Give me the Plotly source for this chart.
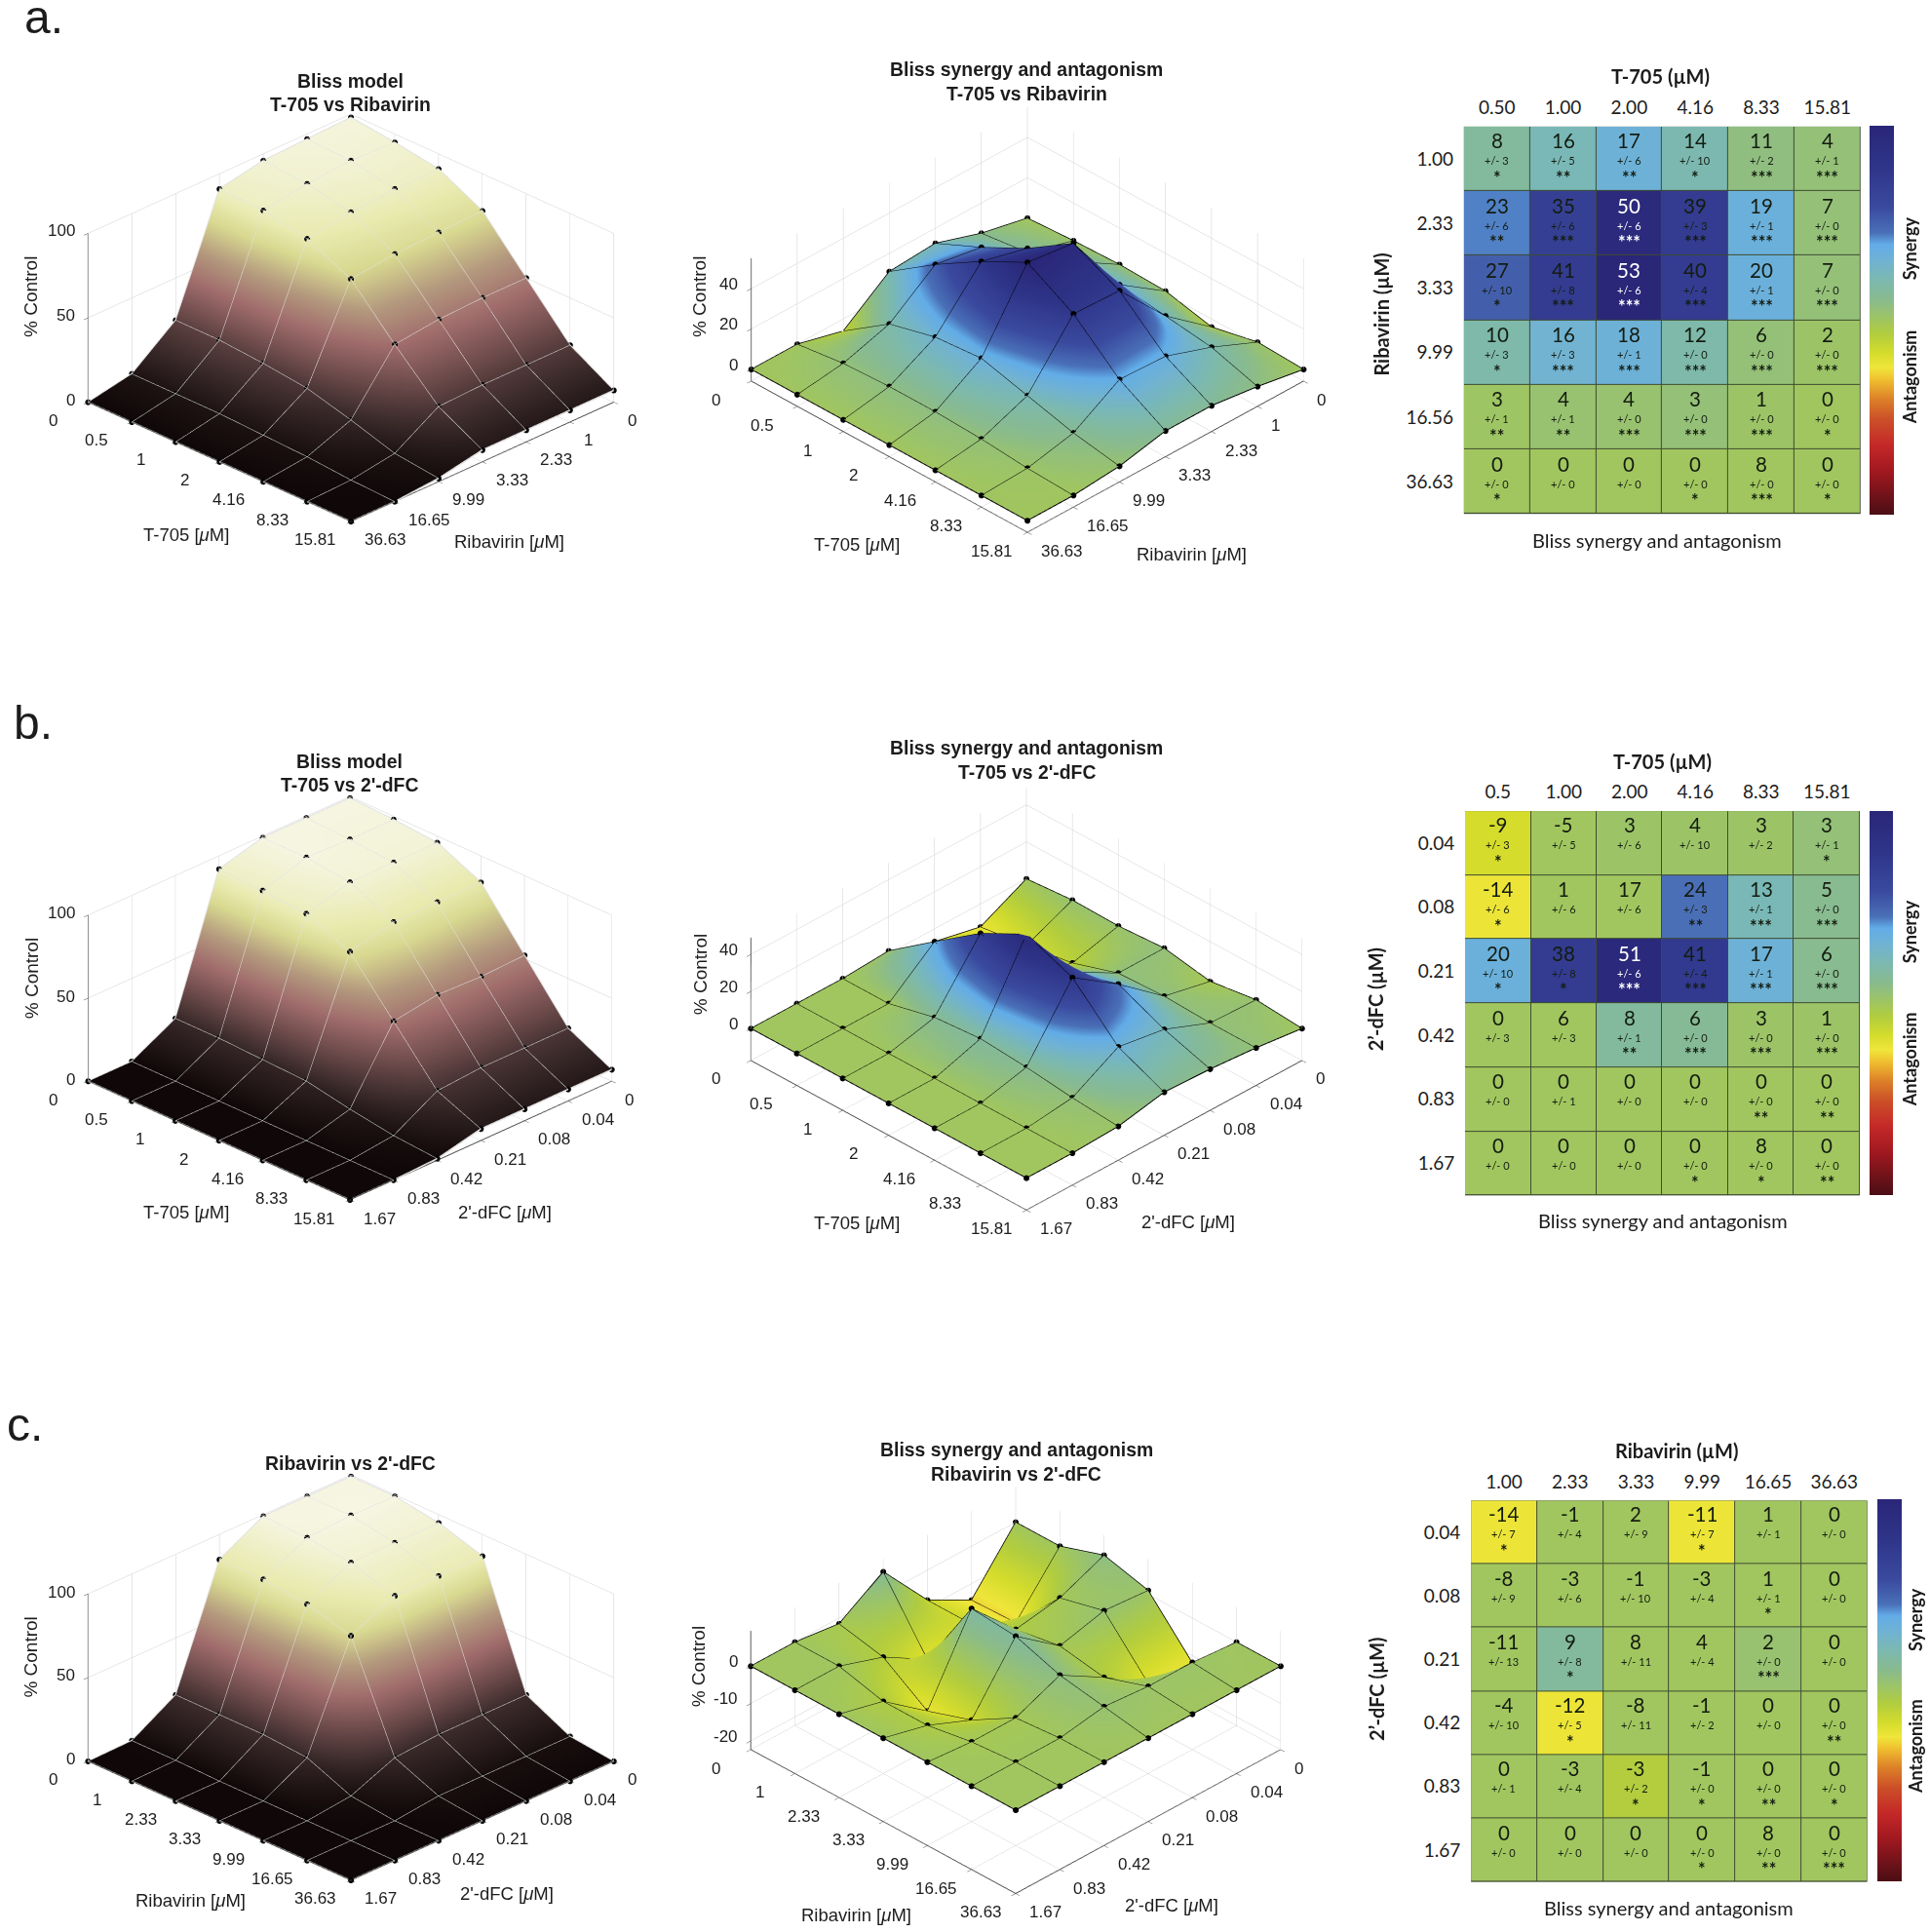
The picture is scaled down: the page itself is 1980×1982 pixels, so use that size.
import math
import plotly.graph_objects as go

W_PAGE, H_PAGE = 1980, 1982
SCENE_W, SCENE_H = 680, 480
EYE_R = 3.0

T705_TICKS = ["0", "0.5", "1", "2", "4.16", "8.33", "15.81"]
RIBA_TICKS = ["0", "1", "2.33", "3.33", "9.99", "16.65", "36.63"]
DFC_TICKS = ["0", "0.04", "0.08", "0.21", "0.42", "0.83", "1.67"]

# 3D surfaces: rows = first drug index, columns = second drug index
model_a = [[98, 97, 96, 91, 25, 5, 0], [95, 96, 94, 90, 25, 5, 0], [91, 91, 89, 85, 23, 5, 0],
           [78, 77, 76, 73, 20, 4, 0], [50, 50, 49, 46, 13, 3, 0], [22, 22, 22, 21, 5, 1, 0], [7, 7, 7, 7, 2, 0, 0]]
model_b = [[99, 99, 99, 92, 14, 0, 0], [98, 98, 99, 91, 14, 0, 0], [96, 96, 96, 89, 13, 0, 0],
           [84, 84, 84, 78, 12, 0, 0], [52, 51, 52, 48, 7, 0, 0], [20, 20, 20, 18, 3, 0, 0], [7, 7, 7, 7, 1, 0, 0]]
model_c = [[99, 99, 99, 85, 16, 0.5, 0], [99, 99.5, 98, 85, 16, 0.6, 0], [95, 95, 95, 82, 16, 0, 0],
           [87, 87, 87, 75, 14, 0, 0], [16, 16, 16, 14, 3, 0, 0], [3, 3, 3, 3, 0, 0, 0], [0, 0, 0, 0, 0, 0, 0]]
synergy_a = [[0, 5, 12.5, 11, -6, 0, 0], [1.3, 8, 23, 27, 10, 3, 0], [2, 16, 35, 41, 16, 4, 0],
             [1.3, 17, 50, 53, 18, 4, 0], [-4, 14, 39, 40, 12, 3, 0], [1, 11, 19, 20, 6, 1, 0], [0, 4, 7, 7, 2, 0, 0]]
synergy_b = [[0, -12.5, -7, 1.5, 0, 0, 0], [2, -9, -14, 20, 0, 0, 0], [1.5, -5, 1, 38, 6, 0, 0],
             [3, 3, 17, 51, 8, 0, 0], [-1.5, 4, 24, 41, 6, 0, 0], [2, 3, 13, 17, 3, 0, 0], [0, 3, 5, 6, 1, 0, 0]]
synergy_c = [[0, -14.4, -8, 6, -1.5, 0, 0], [0, -14, -8, -11, -4, 0, 0], [4, -1, -3, 9, -12, -3, 0],
             [1, 2, -1, 8, -8, -3, 0], [-12, -11, -3, 4, -1, -1, 0], [0, 1, 1, 2, 0, 0, 0], [0, 0, 0, 0, 0, 0, 0]]

# Tables
cols_a = ["0.50", "1.00", "2.00", "4.16", "8.33", "15.81"]
rows_a = ["1.00", "2.33", "3.33", "9.99", "16.56", "36.63"]
vals_a = [[8, 16, 17, 14, 11, 4], [23, 35, 50, 39, 19, 7], [27, 41, 53, 40, 20, 7],
          [10, 16, 18, 12, 6, 2], [3, 4, 4, 3, 1, 0], [0, 0, 0, 0, 8, 0]]
errs_a = [[3, 5, 6, 10, 2, 1], [6, 6, 6, 3, 1, 0], [10, 8, 6, 4, 1, 0],
          [3, 3, 1, 0, 0, 0], [1, 1, 0, 0, 0, 0], [0, 0, 0, 0, 0, 0]]
stars_a = [[1, 2, 2, 1, 3, 3], [2, 3, 3, 3, 3, 3], [1, 3, 3, 3, 3, 3],
           [1, 3, 3, 3, 3, 3], [2, 2, 3, 3, 3, 1], [1, 0, 0, 1, 3, 1]]
shade_a = [[8, 12, 17, 11, 4, 3], [23, 36, 50, 38, 18, 3], [27, 38, 53, 38, 18, 3],
           [10, 16, 17, 10, 3, 1], [0.5, 2, 2, 3, 1, 0], [0, 0, 0, 0, 0, 0]]

cols_b = ["0.5", "1.00", "2.00", "4.16", "8.33", "15.81"]
rows_b = ["0.04", "0.08", "0.21", "0.42", "0.83", "1.67"]
vals_b = [[-9, -5, 3, 4, 3, 3], [-14, 1, 17, 24, 13, 5], [20, 38, 51, 41, 17, 6],
          [0, 6, 8, 6, 3, 1], [0, 0, 0, 0, 0, 0], [0, 0, 0, 0, 8, 0]]
errs_b = [[3, 5, 6, 10, 2, 1], [6, 6, 6, 3, 1, 0], [10, 8, 6, 4, 1, 0],
          [3, 3, 1, 0, 0, 0], [0, 1, 0, 0, 0, 0], [0, 0, 0, 0, 0, 0]]
stars_b = [[1, 0, 0, 0, 0, 1], [1, 0, 0, 2, 3, 3], [1, 1, 3, 3, 3, 3],
           [0, 0, 2, 3, 3, 3], [0, 0, 0, 0, 2, 2], [0, 0, 0, 1, 1, 2]]
shade_b = [[-9, 0, 1, 1, 1, 3], [-12.5, 0, 0, 24, 12, 6], [18, 38, 51, 39, 17, 6],
           [0, 0, 8, 7, 1, 1], [0, 0, 0, 0, 0, 0], [0, 0, 0, 0, 0, 0]]

cols_c = ["1.00", "2.33", "3.33", "9.99", "16.65", "36.63"]
rows_c = ["0.04", "0.08", "0.21", "0.42", "0.83", "1.67"]
vals_c = [[-14, -1, 2, -11, 1, 0], [-8, -3, -1, -3, 1, 0], [-11, 9, 8, 4, 2, 0],
          [-4, -12, -8, -1, 0, 0], [0, -3, -3, -1, 0, 0], [0, 0, 0, 0, 8, 0]]
errs_c = [[7, 4, 9, 7, 1, 0], [9, 6, 10, 4, 1, 0], [13, 8, 11, 4, 0, 0],
          [10, 5, 11, 2, 0, 0], [1, 4, 2, 0, 0, 0], [0, 0, 0, 0, 0, 0]]
stars_c = [[1, 0, 0, 1, 0, 0], [0, 0, 0, 0, 1, 0], [0, 1, 0, 0, 3, 0],
           [0, 1, 0, 0, 0, 2], [0, 0, 1, 1, 2, 1], [0, 0, 0, 1, 2, 3]]
shade_c = [[-12.5, 0, 0, -12.5, 0, 0], [0, 0, 0, 0, 0, 0], [0, 8, 0, 0, 2, 0],
           [0, -12.5, 0, 0, 0, 0], [0, 0, -4, 0, 0, 0], [0, 0, 0, 0, 0, 0]]

MODEL_SCALE = [[0, "#100808"], [0.15, "#3a2a2a"], [0.30, "#6f4c4c"], [0.45, "#a06c6c"], [0.60, "#b49a7e"],
               [0.75, "#d8d890"], [0.85, "#e8eaae"], [1, "#f6f6e4"]]
SYN_SCALE = [[0, "#4a0e14"], [0.11, "#a01820"], [0.178, "#c42828"], [0.246, "#cc5028"], [0.297, "#dc8028"],
             [0.348, "#f0c030"], [0.378, "#efe63a"], [0.416, "#d4dc2c"], [0.467, "#b0cc40"], [0.51, "#9cc468"],
             [0.55, "#8abb8c"], [0.61, "#7ab8b4"], [0.655, "#70b2d4"], [0.695, "#62ace8"], [0.725, "#4a70b8"],
             [0.79, "#3a4a9e"], [0.90, "#2e3488"], [1, "#2a2678"]]

FONT3D = "Liberation Sans"
FONTH = "Lato"
TXT = "#1c1c1c"

FX3 = 1566 / 680
FY3 = 1566 / 540
FY3C = 1566 / 522
FXT = 1566 / 600
FYT = 1566 / 530
FYTC = 1566 / 522

panels3d = [
    dict(z=model_a, kind="model", ox=0, oy=50, fy=FY3, left=208, right=1450, floor=1050, top=548, front=1405, zr=[0, 100],
         zt=[0, 50, 100], first=T705_TICKS, second=RIBA_TICKS, t1="T-705", t2="Ribavirin", z_title=62, ztx=72,
         t1pos=(440, 1445), t2pos=(1203, 1465)),
    dict(z=synergy_a, kind="syn", ox=680, oy=50, fy=FY3, left=208, right=1513, floor=990, top=625, front=1440, zr=[-5.8, 55],
         zt=[0, 20, 40], first=T705_TICKS, second=RIBA_TICKS, t1="T-705", t2="Ribavirin", z_title=36, ztx=88,
         t1pos=(458, 1475), t2pos=(1250, 1505)),
    dict(z=model_b, kind="model", ox=0, oy=750, fy=FY3, left=208, right=1445, floor=1042, top=548, front=1395, zr=[0, 100],
         zt=[0, 50, 100], first=T705_TICKS, second=DFC_TICKS, t1="T-705", t2="2'-dFC", z_title=62, ztx=75,
         t1pos=(440, 1432), t2pos=(1192, 1430)),
    dict(z=synergy_b, kind="syn", ox=680, oy=750, fy=FY3, left=208, right=1510, floor=980, top=615, front=1425, zr=[-17.3, 49],
         zt=[0, 20, 40], first=T705_TICKS, second=DFC_TICKS, t1="T-705", t2="2'-dFC", z_title=29, ztx=88,
         t1pos=(458, 1462), t2pos=(1242, 1460)),
    dict(z=model_c, kind="model", ox=0, oy=1442, fy=FY3, left=208, right=1450, floor=1058, top=560, front=1412, zr=[0, 100],
         zt=[0, 50, 100], first=RIBA_TICKS, second=DFC_TICKS, t1="Ribavirin", t2="2'-dFC", z_title=62, ztx=72,
         t1pos=(450, 1472), t2pos=(1197, 1450)),
    dict(z=synergy_c, kind="syn", ox=680, oy=1460, fy=FY3C, left=208, right=1460, floor=1005, top=640, front=1448, zr=[-22.3, 9.4],
         zt=[-20, -10, 0], first=RIBA_TICKS, second=DFC_TICKS, t1="Ribavirin", t2="2'-dFC", z_title=0, ztx=85,
         t1pos=(457, 1512), t2pos=(1203, 1482)),
]

tables = [
    dict(oy=50, fy=FYT, box=(318, 1380, 236, 1410), cb=(1405, 1470, 232, 1410), cols=cols_a, rows=rows_a, vals=vals_a, errs=errs_a,
         stars=stars_a, shade=shade_a, top=("T-705 (µM)", 845, 82), left=("Ribavirin (µM)", 97, 805),
         bottom=("Bliss synergy and antagonism", 835, 1490), syn=(1510, 605), ant=(1510, 995)),
    dict(oy=760, fy=FYT, box=(321, 1378, 213, 1378), cb=(1405, 1468, 213, 1378), cols=cols_b, rows=rows_b, vals=vals_b, errs=errs_b,
         stars=stars_b, shade=shade_b, top=("T-705 (µM)", 850, 62), left=("2’-dFC (µM)", 80, 785),
         bottom=("Bliss synergy and antagonism", 850, 1455), syn=(1510, 578), ant=(1510, 965)),
    dict(oy=1460, fy=FYTC, box=(337, 1398, 238, 1412), cb=(1424, 1488, 235, 1412), cols=cols_c, rows=rows_c, vals=vals_c, errs=errs_c,
         stars=stars_c, shade=shade_c, top=("Ribavirin (µM)", 888, 85), left=("2’-dFC (µM)", 85, 820),
         bottom=("Bliss synergy and antagonism", 867, 1490), syn=(1525, 605), ant=(1525, 995)),
]

titles = [
    ("Bliss model", 359.5, 83.4), ("T-705 vs Ribavirin", 359.5, 107),
    ("Bliss synergy and antagonism", 1053, 70.7), ("T-705 vs Ribavirin", 1053, 96),
    ("Bliss model", 358.7, 781), ("T-705 vs 2'-dFC", 358.7, 804.5),
    ("Bliss synergy and antagonism", 1053, 767), ("T-705 vs 2'-dFC", 1053, 792),
    ("Ribavirin vs 2'-dFC", 359.5, 1500.6),
    ("Bliss synergy and antagonism", 1042.6, 1486.7), ("Ribavirin vs 2'-dFC", 1042.6, 1511.7),
]
letters = [("a.", 23, 18), ("b.", 12, 741), ("c.", 5, 1461)]


def px(x):
    return x / W_PAGE


def py(y):
    return 1 - y / H_PAGE


fig = go.Figure()
layout = dict(width=W_PAGE, height=H_PAGE, margin=dict(l=0, r=0, t=0, b=0), paper_bgcolor="white",
              plot_bgcolor="#3f4c30", showlegend=False, hovermode=False)
annos = []


def paper_text(text, x, y, size, family, bold=False, angle=0, color=TXT, anchor="center"):
    annos.append(dict(xref="paper", yref="paper", x=px(x), y=py(y), text=f"<b>{text}</b>" if bold else text,
                      showarrow=False, xanchor=anchor, yanchor="middle", textangle=angle,
                      font=dict(family=family, size=size, color=color)))


for n, p in enumerate(panels3d, start=1):
    sid = "scene" if n == 1 else f"scene{n}"
    z = p["z"]
    idx = list(range(7))
    is_model = p["kind"] == "model"
    wire = "#e2e2e2" if is_model else "#000000"
    wire_w = 3 if is_model else 2
    contour = dict(show=True, start=0, end=6, size=1, color=wire, width=wire_w, highlight=False)
    surf = dict(type="surface", x=idx, y=idx, z=z, scene=sid, showscale=False, hoverinfo="skip",
                lighting=dict(ambient=1, diffuse=0, specular=0, roughness=1, fresnel=0),
                contours=dict(x=contour, y=contour, z=dict(show=False, highlight=False)))
    if is_model:
        surf.update(colorscale=MODEL_SCALE, cmin=0, cmax=100)
    else:
        surf.update(colorscale=SYN_SCALE, cmin=-53, cmax=53)
    fig.add_trace(go.Surface(**surf))
    # outline of the mesh, taken from the same matrix
    lx, ly, lz = [], [], []
    for k in idx:
        lx.append(k); ly.append(0); lz.append(z[0][k])
    lx.append(None); ly.append(None); lz.append(None)
    for k in idx:
        lx.append(k); ly.append(6); lz.append(z[6][k])
    lx.append(None); ly.append(None); lz.append(None)
    for k in idx:
        lx.append(0); ly.append(k); lz.append(z[k][0])
    lx.append(None); ly.append(None); lz.append(None)
    for k in idx:
        lx.append(6); ly.append(k); lz.append(z[k][6])
    fig.add_trace(go.Scatter3d(x=lx, y=ly, z=lz, mode="lines", scene=sid, hoverinfo="skip",
                               line=dict(color=wire, width=wire_w), connectgaps=False))
    xs, ys, zs = [], [], []
    for i in idx:
        for j in idx:
            xs.append(j); ys.append(i); zs.append(z[i][j])
    fig.add_trace(go.Scatter3d(x=xs, y=ys, z=zs, mode="markers", scene=sid, hoverinfo="skip",
                               marker=dict(size=3.5, color="black")))
    fy = p["fy"]
    w = (p["right"] - p["left"]) / FX3
    depth = 2 * (p["front"] - p["floor"]) / fy
    h = (p["floor"] - p["top"]) / fy
    sin_el = depth / w
    ce = math.cos(math.asin(sin_el))
    cx = p["ox"] + (p["left"] + p["right"]) / 2 / FX3
    cy = p["oy"] + (p["floor"] + p["top"]) / 2 / fy
    side = (w / math.sqrt(2)) / (SCENE_H / 2)
    zasp = (h / ce) / (SCENE_H / 2)
    common = dict(range=[0, 6], tickvals=idx, ticktext=[""] * 7, showticklabels=False, showgrid=True, gridcolor="#cfcfcf",
                  gridwidth=1, zeroline=False, showbackground=False, showspikes=False, title=dict(text=""),
                  showline=True, linecolor="#444444", linewidth=2, ticks="outside", ticklen=6, tickcolor="#444444",
                  autorange=False)
    zax = dict(common)
    zax.update(range=p["zr"], tickvals=p["zt"], ticktext=[""] * 3)
    sa = []
    f3 = dict(family=FONT3D, size=17, color=TXT)
    zb = p["zr"][0]
    for i, t in enumerate(p["first"]):
        sa.append(dict(x=6, y=i, z=zb, text=t, showarrow=False, xanchor="center", yanchor="middle", xshift=-36, yshift=-19, font=f3))
    for j, t in enumerate(p["second"]):
        sa.append(dict(x=j, y=6, z=zb, text=t, showarrow=False, xanchor="left", yanchor="middle", xshift=12, yshift=-19, font=f3))
    for v in p["zt"]:
        sa.append(dict(x=6, y=0, z=v, text=str(v), showarrow=False, xanchor="right", yanchor="middle", xshift=-11,
                       yshift=2 if is_model else 5, font=f3))
    f4 = dict(family=FONT3D, size=18.5, color=TXT)
    for key, name in (("t1pos", p["t1"]), ("t2pos", p["t2"])):
        sa.append(dict(x=6, y=6, z=zb, text=f"{name} [<i>μ</i>M]", showarrow=False, xanchor="center", yanchor="middle",
                       xshift=(p[key][0] - (p["left"] + p["right"]) / 2) / FX3, yshift=-(p[key][1] - p["front"]) / fy, font=f4))
    sa.append(dict(x=6, y=0, z=p["z_title"], text="% Control", showarrow=False, xanchor="center", yanchor="middle",
                   xshift=(p["ztx"] - p["left"]) / FX3, yshift=0, textangle=-90, font=dict(family=FONT3D, size=19, color=TXT)))
    layout[sid] = dict(
        domain=dict(x=[px(cx - SCENE_W / 2), px(cx + SCENE_W / 2)], y=[py(cy + SCENE_H / 2), py(cy - SCENE_H / 2)]),
        xaxis=common, yaxis=common, zaxis=zax,
        aspectmode="manual", aspectratio=dict(x=side, y=side, z=zasp),
        camera=dict(projection=dict(type="orthographic"), up=dict(x=0, y=0, z=1), center=dict(x=0, y=0, z=0),
                    eye=dict(x=EYE_R * ce / math.sqrt(2), y=EYE_R * ce / math.sqrt(2), z=EYE_R * sin_el)),
        annotations=sa, bgcolor="rgba(0,0,0,0)")

for n, t in enumerate(tables):
    xa = f"xaxis{n + 2}"
    ya = f"yaxis{n + 2}"
    xr = f"x{n + 2}"
    yr = f"y{n + 2}"
    fy = t["fy"]
    ox, oy = 1380, t["oy"]
    X = lambda v: ox + v / FXT
    Y = lambda v: oy + v / fy
    b = t["box"]
    cb = t["cb"]
    fig.add_trace(go.Heatmap(x=t["cols"], y=t["rows"], z=t["shade"], xaxis=xr, yaxis=yr, colorscale=SYN_SCALE,
                             zmin=-53, zmax=53, xgap=1, ygap=1, hoverinfo="skip", showscale=True,
                             colorbar=dict(x=px(X(cb[0])), xanchor="left", xpad=0, ypad=0, thickness=(cb[1] - cb[0]) / FXT,
                                           thicknessmode="pixels", y=py(Y(cb[2])), yanchor="top",
                                           len=(cb[3] - cb[2]) / fy / H_PAGE,
                                           lenmode="fraction", showticklabels=False, ticks="", outlinewidth=0)))
    tf = dict(family=FONTH, size=19, color=TXT)
    layout[xa] = dict(domain=[px(X(b[0])), px(X(b[1]))], side="top", anchor=yr, type="category", showgrid=False,
                      zeroline=False, ticks="outside", ticklen=4, tickcolor="rgba(0,0,0,0)", tickfont=tf, showline=False,
                      fixedrange=True, categoryorder="array", categoryarray=t["cols"])
    layout[ya] = dict(domain=[py(Y(b[3])), py(Y(b[2]))], anchor=xr, type="category", showgrid=False, zeroline=False,
                      ticks="outside", ticklen=6, tickcolor="rgba(0,0,0,0)", tickfont=tf, showline=False, fixedrange=True,
                      categoryorder="array", categoryarray=t["rows"], autorange="reversed")
    for r, rname in enumerate(t["rows"]):
        for c, cname in enumerate(t["cols"]):
            col = "white" if t["vals"][r][c] >= 50 else "#141c10"
            base = dict(xref=xr, yref=yr, x=c, y=r, showarrow=False, xanchor="center", yanchor="middle")
            annos.append(dict(base, text=str(t["vals"][r][c]), yshift=18.5, font=dict(family=FONTH, size=20.5, color=col)))
            annos.append(dict(base, text=f"+/- {t['errs'][r][c]}", yshift=-2, font=dict(family=FONTH, size=11, color=col)))
            if t["stars"][r][c]:
                annos.append(dict(base, text="<b>" + "*" * t["stars"][r][c] + "</b>", yshift=-19,
                                  font=dict(family=FONTH, size=18, color=col)))
    paper_text(t["top"][0], X(t["top"][1]), Y(t["top"][2]), 20, FONTH, bold=True)
    paper_text(t["left"][0], X(t["left"][1]), Y(t["left"][2]), 20, FONTH, bold=True, angle=-90)
    paper_text(t["bottom"][0], X(t["bottom"][1]), Y(t["bottom"][2]), 20, FONTH)
    paper_text("Synergy", X(t["syn"][0]), Y(t["syn"][1]), 18, FONTH, bold=True, angle=-90)
    paper_text("Antagonism", X(t["ant"][0]), Y(t["ant"][1]), 18, FONTH, bold=True, angle=-90)

for text, x, y in titles:
    paper_text(text, x, y, 19.4, FONT3D, bold=True)
for text, x, y in letters:
    paper_text(text, x, y, 48, FONT3D, anchor="left")

layout["annotations"] = annos
fig.update_layout(**layout)
fig.write_html("out.html", config={"displayModeBar": False},
               post_script="document.body.style.margin='0';document.body.style.overflow='hidden';")
